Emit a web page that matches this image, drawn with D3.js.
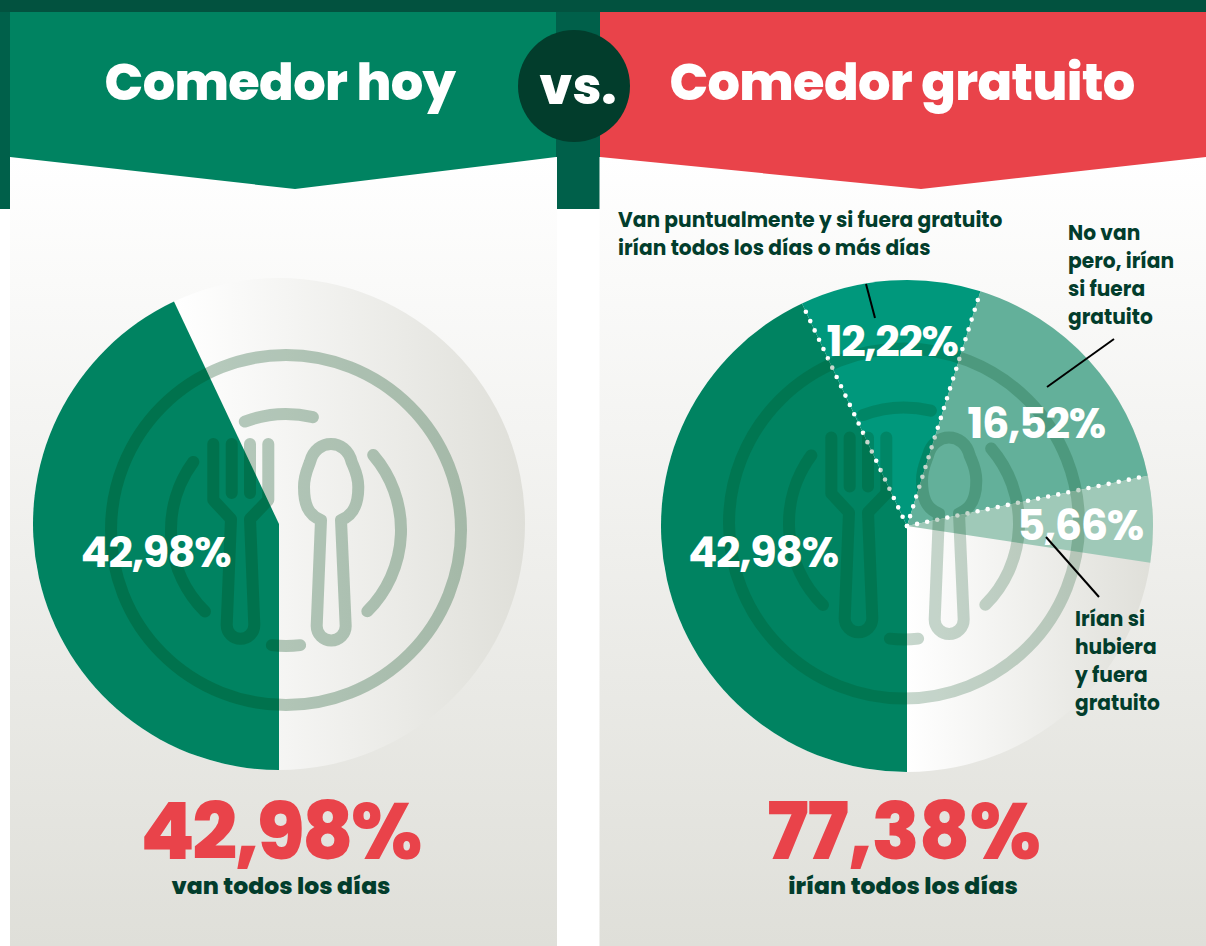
<!DOCTYPE html>
<html><head><meta charset="utf-8">
<style>html,body{margin:0;padding:0;background:#fff;overflow:hidden}svg{display:block}text{font-family:"Poppins","Inter","Noto Sans",sans-serif}</style>
<script src="https://cdn.jsdelivr.net/npm/d3@7/dist/d3.min.js"></script>
</head><body><svg id="c" width="1206" height="946"></svg>
<script>
const leftCategories=["Van todos los días"];
const leftValues=[42.98];
const rightCategories=["Van todos los días","Van puntualmente","No van","Irían si hubiera"];
// wedge shares as drawn in the picture
const rightValues=[42.98,11.85,16.89,5.66];
const rightLabels=["42,98%","12,22%","16,52%","5,66%"];
const rightColors=["#008361","#00987c","#63b09a","#9fc9b8"];
const leftTotal="42,98%",rightTotal="77,38%";
const svg=d3.select("#c");
const defs=svg.append("defs");
const g1=defs.append("linearGradient").attr("id","panel").attr("x1",0).attr("y1",0).attr("x2",0).attr("y2",1);
g1.append("stop").attr("offset",0).attr("stop-color","#ffffff");
g1.append("stop").attr("offset",1).attr("stop-color","#dfdfd9");
function discGrad(id,start){
  const g=defs.append("linearGradient").attr("id",id).attr("x1",0).attr("y1",0).attr("x2",1).attr("y2",0);
  g.append("stop").attr("offset",start).attr("stop-color","#ffffff");
  g.append("stop").attr("offset",1).attr("stop-color","#dfdfd9");
}
discGrad("discL",0.29);discGrad("discR",0.5);
svg.append("rect").attr("width",1206).attr("height",209).attr("fill","#00604a");
svg.append("rect").attr("width",1206).attr("height",12).attr("fill","#02523f");
svg.append("rect").attr("x",10).attr("y",157).attr("width",547).attr("height",789).attr("fill","url(#panel)");
svg.append("rect").attr("x",599.5).attr("y",157).attr("width",607).attr("height",789).attr("fill","url(#panel)");
svg.append("path").attr("d","M10,12H556V157L295,189L10,157Z").attr("fill","#008361");
svg.append("path").attr("d","M600,12H1206V157L921,189L600,157Z").attr("fill","#e9434a");
const R=246;
const arc=d3.arc().innerRadius(0).outerRadius(R);
const toRad=v=>v/100*2*Math.PI;
function plate(x,y,op){
  const g=svg.append("g").attr("transform",`translate(${x},${y})`).attr("fill","none").attr("stroke","#00491a").attr("stroke-opacity",op).attr("stroke-linecap","round").attr("stroke-linejoin","round").attr("stroke-width",12);
  const arcP=(r,a0,a1)=>{const p=d3.path();p.arc(0,0,r,(a0-90)*Math.PI/180,(a1-90)*Math.PI/180,a1<a0);return p.toString();};
  g.append("circle").attr("r",175);
  g.append("path").attr("d",arcP(116,-20.8,13.4));
  g.append("path").attr("d",arcP(116,173,187));
  g.append("path").attr("d",arcP(115,-53.7,-135.2));
  g.append("path").attr("d",arcP(115,49.3,135));
  g.append("path").attr("d","M-72.7,-86V-30L-55,-11L-59.3,95A13.8,13.8 0 0 0 -31.7,95L-36,-11L-17.7,-30V-86");
  g.append("path").attr("d","M-54.3,-86V-37M-36,-86V-37");
  g.append("path").attr("d","M35,-10L30.7,96A14.5,14.5 0 0 0 59.7,96L55,-10C68,-15 72.3,-26 72.3,-43C72.3,-55 68,-62 65.7,-68C60,-92 30,-92 24,-68C22,-62 18,-55 18,-43C18,-26 22,-15 35,-10Z");
}
function label(x,y,t,size,fill,weight,anchor,ls){
  return svg.append("text").attr("x",x).attr("y",y).attr("font-size",size).attr("font-weight",weight||700).attr("fill",fill).attr("text-anchor",anchor||"middle").attr("letter-spacing",ls||0).text(t);
}
// LEFT
const lc=[279,524];
svg.append("circle").attr("cx",lc[0]).attr("cy",lc[1]).attr("r",R).attr("fill","url(#discL)");
svg.append("path").attr("transform",`translate(${lc})`).attr("fill","#008361").attr("d",arc({startAngle:Math.PI,endAngle:Math.PI+toRad(leftValues[0])}));
plate(286,530,.28);
// RIGHT
const rc=[907,526];
svg.append("circle").attr("cx",rc[0]).attr("cy",rc[1]).attr("r",R).attr("fill","url(#discR)");
const gr=svg.append("g").attr("transform",`translate(${rc})`);
let ang=Math.PI;const arcsR=[];
rightValues.forEach((v,i)=>{const s=ang,e=ang+toRad(v);arcsR.push([s,e]);ang=e;
  gr.append("path").attr("fill",rightColors[i]).attr("d",arc({startAngle:s,endAngle:e}));});
const gl=svg.append("g").attr("transform",`translate(${rc})`);
arcsR.slice(0,3).forEach(([s,e])=>{const t=e-Math.PI/2;
  gl.append("line").attr("x2",R*Math.cos(t)).attr("y2",R*Math.sin(t)).attr("stroke","#fff").attr("stroke-width",4.6).attr("stroke-linecap","round").attr("stroke-dasharray","0 10.3");
});
plate(904,523.5,.22);
// labels
const pct=(x,y,t)=>label(x,y,t,43,"#fff",700,"middle",-1.4);
pct(155.5,567,leftTotal);
pct(763,567,rightLabels[0]);
pct(892,356,rightLabels[1]);
pct(1036,438,rightLabels[2]);
pct(1080,540,rightLabels[3]);
label(280,859,leftTotal,79,"#e9434a",800,"middle",-2.6);
label(903.5,859,rightTotal,79,"#e9434a",800,"middle",-1);
label(281,894,"van todos los días",23.5,"#023d2c",800,"middle",0);
label(903,894,"irían todos los días",23.5,"#023d2c",800,"middle",0);
label(280,100,"Comedor hoy",51,"#fff",800,"middle",-.6);
label(902,100,"Comedor gratuito",51,"#fff",800,"middle",-.6);
svg.append("circle").attr("cx",574).attr("cy",86).attr("r",56).attr("fill","#023d2c");
label(578,104,"vs.",51,"#fff",800);
[[618,227,"Van puntualmente y si fuera gratuito"],[618,255,"irían todos los días o más días"],
 [1068,240,"No van"],[1068,268,"pero, irían"],[1068,296,"si fuera"],[1068,324,"gratuito"],
 [1075,626,"Irían si"],[1075,654,"hubiera"],[1075,682,"y fuera"],[1075,710,"gratuito"]]
 .forEach(d=>label(d[0],d[1],d[2],20.2,"#023d2c",700,"start"));
[[866,284,875,318],[1114,339,1047,387],[1046,537,1099,597]].forEach(d=>svg.append("line").attr("x1",d[0]).attr("y1",d[1]).attr("x2",d[2]).attr("y2",d[3]).attr("stroke","#000").attr("stroke-width",2));
</script></body></html>
